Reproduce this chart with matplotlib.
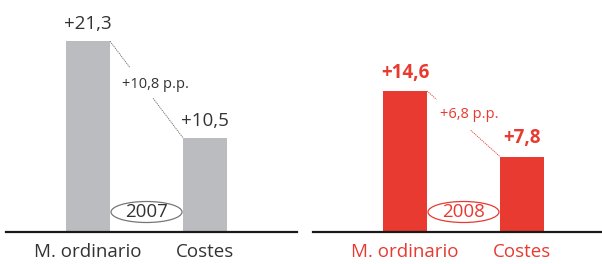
import matplotlib
matplotlib.use("Agg")
import matplotlib.pyplot as plt
from matplotlib.patches import Ellipse

categories = ["M. ordinario", "Costes"]
values_2007 = [21.3, 10.5]
values_2008 = [14.6, 7.8]
diff_2007 = "+10,8 p.p."
diff_2008 = "+6,8 p.p."
years = ["2007", "2008"]

def fmt(v):
    return "+" + f"{v:.1f}".replace(".", ",")

plt.rcParams['font.family'] = ['Open Sans', 'DejaVu Sans']

W, H = 602, 264
fig = plt.figure(figsize=(W / 100, H / 100), dpi=100)

GRAY = "#BBBCBF"
RED = "#E83A30"
DARK = "#333333"

def panel(x0, x1, values, diff, year, bar_color, text_color, bold, xlim, ylim,
          seg, txt):
    ax = fig.add_axes([x0 / W, 1 - 232 / H, (x1 - x0) / W, 232 / H])
    xs = [0, 1]
    bw = 0.376
    ax.bar(xs, values, width=bw, color=bar_color, zorder=2)
    ax.set_xlim(*xlim)
    ax.set_ylim(*ylim)
    for s in ["top", "left", "right"]:
        ax.spines[s].set_visible(False)
    ax.spines["bottom"].set_linewidth(1.6)
    ax.spines["bottom"].set_color("#1a1a1a")
    ax.set_yticks([])
    ax.set_xticks(xs)
    ax.set_xticklabels(categories, fontsize=13.5, color=text_color)
    ax.tick_params(axis="x", length=0, pad=8)
    for x, v in zip(xs, values):
        ax.annotate(fmt(v), (x, v), xytext=(0, 6), textcoords="offset points",
                    ha="center", va="bottom", fontsize=13.5, color=text_color,
                    fontweight="bold" if bold else "normal")
    # connector
    xa, ya = xs[0] + bw / 2, values[0]
    xb, yb = xs[1] - bw / 2, values[1]
    def pt(t):
        return xa + (xb - xa) * t, ya + (yb - ya) * t
    p1, p2 = pt(0.0), pt(seg[0])
    p3, p4 = pt(seg[1]), pt(1.0)
    ls = (0, (1.5, 1.0))
    lc = text_color if bold else "#666666"
    ax.plot([p1[0], p2[0]], [p1[1], p2[1]], color=lc, lw=0.6, ls=ls, zorder=3)
    ax.plot([p3[0], p4[0]], [p3[1], p4[1]], color=lc, lw=0.6, ls=ls, zorder=3)
    # diff text, placed in pixel position within the axes
    tx = (txt[0] - x0) / (x1 - x0)
    ty = (232 - txt[1]) / 232
    ax.text(tx, ty, diff, transform=ax.transAxes, ha="center", va="center",
            fontsize=10.5, color=text_color if bold else DARK)
    # year ellipse
    ycen = (232 - 212) / 232 * (ylim[1] - ylim[0]) + ylim[0]
    ew = 71 / ((x1 - x0) / (xlim[1] - xlim[0]))
    eh = 21 / (232 / (ylim[1] - ylim[0]))
    ax.add_patch(Ellipse((0.5, ycen), ew, eh, facecolor="white",
                         edgecolor=text_color if bold else "#777777", lw=0.9, zorder=4))
    ax.text(0.5, ycen, year, ha="center", va="center", fontsize=13.5,
            color=text_color if bold else DARK, zorder=5)
    return ax

panel(6, 297, values_2007, diff_2007, years[0], GRAY, DARK, False,
      (-0.701, 1.786), (0, 25.9), (0.27, 0.59), (155, 85))
panel(313, 602, values_2008, diff_2008, years[1], RED, RED, True,
      (-0.786, 1.684), (0, 24.0), (0.13, 0.6), (469, 115))

fig.savefig("out.png", dpi=100)
